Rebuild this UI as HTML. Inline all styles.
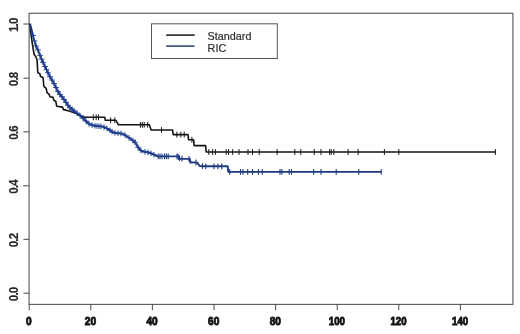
<!DOCTYPE html>
<html><head><meta charset="utf-8"><title>Survival</title>
<style>
html,body{margin:0;padding:0;background:#fff}
svg{display:block;filter:blur(0.3px)}
text{font-family:"Liberation Sans",sans-serif}
.yl{font-size:11.5px;letter-spacing:-0.8px;font-weight:bold;fill:#262626;stroke:#262626;stroke-width:0.15}
.xl{font-size:11.7px;font-weight:bold;fill:#111;stroke:#111;stroke-width:0.9}
.lg{font-size:10.8px;fill:#2c2c2c;stroke:#2c2c2c;stroke-width:0.2}
</style></head><body>
<svg width="520" height="334" viewBox="0 0 520 334">
<rect width="520" height="334" fill="#fff"/>
<rect x="29.1" y="13.3" width="483.8" height="291.1" fill="none" stroke="#5c5c5c" stroke-width="1.15"/>
<path d="M23.4 293.2H29.2M23.4 239.3H29.2M23.4 185.8H29.2M23.4 131.8H29.2M23.4 78.2H29.2M23.4 24.0H29.2M29.2 304.2V310.2M90.8 304.2V310.2M152.4 304.2V310.2M214.0 304.2V310.2M275.6 304.2V310.2M337.2 304.2V310.2M398.8 304.2V310.2M460.4 304.2V310.2" stroke="#4a4a4a" stroke-width="1" fill="none"/>
<text class="yl" transform="translate(18.1 294.4) rotate(-90) scale(1 1.12)" text-anchor="middle">0.0</text>
<text class="yl" transform="translate(18.1 240.5) rotate(-90) scale(1 1.12)" text-anchor="middle">0.2</text>
<text class="yl" transform="translate(18.1 187.0) rotate(-90) scale(1 1.12)" text-anchor="middle">0.4</text>
<text class="yl" transform="translate(18.1 133.0) rotate(-90) scale(1 1.12)" text-anchor="middle">0.6</text>
<text class="yl" transform="translate(18.1 79.4) rotate(-90) scale(1 1.12)" text-anchor="middle">0.8</text>
<text class="yl" transform="translate(18.1 25.2) rotate(-90) scale(1 1.12)" text-anchor="middle">1.0</text>
<text class="xl" transform="translate(28.9 325.4) scale(0.87 1)" text-anchor="middle">0</text>
<text class="xl" transform="translate(90.5 325.4) scale(0.87 1)" text-anchor="middle">20</text>
<text class="xl" transform="translate(152.1 325.4) scale(0.87 1)" text-anchor="middle">40</text>
<text class="xl" transform="translate(213.7 325.4) scale(0.87 1)" text-anchor="middle">60</text>
<text class="xl" transform="translate(275.3 325.4) scale(0.87 1)" text-anchor="middle">80</text>
<text class="xl" transform="translate(336.9 325.4) scale(0.83 1)" text-anchor="middle">100</text>
<text class="xl" transform="translate(398.5 325.4) scale(0.83 1)" text-anchor="middle">120</text>
<text class="xl" transform="translate(460.1 325.4) scale(0.83 1)" text-anchor="middle">140</text>
<rect x="151.5" y="23.8" width="125.8" height="34.7" fill="#fff" stroke="#555" stroke-width="1"/>
<path d="M166.2 35.1H194.6" stroke="#151515" stroke-width="1.5"/>
<path d="M166.2 46.1H194.6" stroke="#223e6c" stroke-width="1.5"/>
<text class="lg" x="207.6" y="39.7">Standard</text>
<text class="lg" x="207.6" y="51.7">RIC</text>
<path d="M30.0 23.7 L30.4 30.0 L31.1 35.0 L32.4 44.2 L33.2 49.3 L34.2 54.5 L35.9 56.7 L37.1 60.1 L37.8 72.6 L39.8 73.7 L40.6 76.5 L43.0 77.5 L43.9 86.4 L46.2 88.4 L47.0 92.6 L49.2 94.4 L50.0 96.8 L53.0 97.4 L54.0 100.5 L55.8 101.3 L56.7 106.2 L62.5 107.1 L63.5 109.6 L69.2 111.0 L75.0 112.9 L80.8 115.8 L84.6 117.3 L104.8 117.3 L105.3 120.3 L115.9 120.3 L118.4 124.8 L149.3 124.8 L151.2 130.0 L172.6 130.0 L173.2 134.6 L188.0 134.6 L188.6 139.8 L193.6 139.8 L194.2 145.6 L205.6 145.6 L206.2 152.0 L495.4 152.0" stroke="#141414" stroke-width="1.6" fill="none" stroke-linejoin="round"/>
<path d="M93.3 114.4V120.2M96.2 114.4V120.2M98.5 114.4V120.2M110.6 117.4V123.2M114.8 117.4V123.2M140.4 121.9V127.7M142.3 121.9V127.7M144.2 121.9V127.7M147.7 121.9V127.7M161.5 127.1V132.9M176.9 131.7V137.5M180.8 131.7V137.5M184.2 131.7V137.5M191.9 136.9V142.7M208.8 149.1V154.9M212.7 149.1V154.9M215.4 149.1V154.9M226.2 149.1V154.9M228.5 149.1V154.9M232.7 149.1V154.9M239.0 149.1V154.9M248.0 149.1V154.9M252.5 149.1V154.9M259.2 149.1V154.9M277.1 149.1V154.9M294.8 149.1V154.9M300.8 149.1V154.9M314.2 149.1V154.9M321.0 149.1V154.9M329.6 149.1V154.9M331.3 149.1V154.9M333.8 149.1V154.9M348.1 149.1V154.9M358.1 149.1V154.9M384.4 149.1V154.9M398.8 149.1V154.9M495.4 149.1V154.9" stroke="#141414" stroke-width="1" fill="none"/>
<path d="M30.0 23.7 L30.8 26.5 L32.4 33.0 L33.6 38.0 L36.2 46.7 L38.0 50.0 L39.3 53.5 L41.5 59.2 L44.3 65.0 L47.0 70.8 L49.8 76.4 L52.9 81.6 L55.3 86.0 L57.4 90.6 L60.2 94.8 L62.4 97.3 L65.3 101.2 L69.2 107.1 L75.0 111.7 L80.8 116.1 L85.0 120.2 L89.5 124.2 L94.5 125.8 L103.0 126.6 L107.0 128.5 L109.5 130.0 L113.5 132.7 L123.0 133.7 L127.0 136.5 L132.7 140.2 L135.5 142.8 L137.5 146.5 L139.5 149.3 L141.8 151.2 L146.0 152.0 L150.0 152.8 L153.8 154.6 L157.5 156.4 L177.7 156.4 L180.2 158.7 L189.0 158.9 L190.9 162.2 L197.2 162.6 L199.7 166.0 L205.0 166.3 L227.7 166.3 L228.3 171.9 L381.5 171.9" stroke="#1d397f" stroke-width="1.9" fill="none" stroke-linejoin="round"/>
<path d="M229.7 169.0V174.8M240.5 169.0V174.8M247.7 169.0V174.8M158.2 153.5V159.3M160.0 153.5V159.3M162.0 153.5V159.3M164.5 153.5V159.3M166.4 153.5V159.3M168.2 153.5V159.3M177.0 153.5V159.3M178.3 154.1V159.9M179.5 155.2V161.0M182.0 155.8V161.6M189.0 156.0V161.8M190.2 158.1V163.9M196.0 159.6V165.4M202.5 163.3V169.1M205.8 163.4V169.2M214.0 163.4V169.2M217.9 163.4V169.2M221.7 163.4V169.2M242.9 169.0V174.8M252.5 169.0V174.8M258.5 169.0V174.8M262.3 169.0V174.8M280.0 169.0V174.8M281.9 169.0V174.8M289.2 169.0V174.8M291.5 169.0V174.8M313.7 169.0V174.8M321.0 169.0V174.8M336.2 169.0V174.8M358.8 169.0V174.8M381.2 169.0V174.8" stroke="#1d397f" stroke-width="1.1" fill="none"/>
<path d="M33.0 32.7V38.3M30.2 35.5H35.8M34.5 38.2V43.8M31.7 41.0H37.3M36.0 43.2V48.8M33.2 46.0H38.8M38.0 47.2V52.8M35.2 50.0H40.8M40.0 52.5V58.1M37.2 55.3H42.8M41.5 56.4V62.0M38.7 59.2H44.3M43.0 59.5V65.1M40.2 62.3H45.8M45.0 63.7V69.3M42.2 66.5H47.8M46.5 66.9V72.5M43.7 69.7H49.3M48.0 70.0V75.6M45.2 72.8H50.8M50.0 73.9V79.5M47.2 76.7H52.8M52.0 77.3V82.9M49.2 80.1H54.8M54.0 80.8V86.4M51.2 83.6H56.8M56.0 84.7V90.3M53.2 87.5H58.8M58.0 88.7V94.3M55.2 91.5H60.8M60.0 91.7V97.3M57.2 94.5H62.8M62.0 94.0V99.6M59.2 96.8H64.8M64.0 96.7V102.3M61.2 99.5H66.8M66.0 99.5V105.1M63.2 102.3H68.8M68.0 102.5V108.1M65.2 105.3H70.8M70.0 104.9V110.5M67.2 107.7H72.8M72.0 106.5V112.1M69.2 109.3H74.8M74.0 108.1V113.7M71.2 110.9H76.8M77.0 110.4V116.0M74.2 113.2H79.8M80.0 112.7V118.3M77.2 115.5H82.8M83.0 115.4V121.0M80.2 118.2H85.8M86.0 118.3V123.9M83.2 121.1H88.8M89.0 121.0V126.6M86.2 123.8H91.8M92.0 122.2V127.8M89.2 125.0H94.8M95.0 123.0V128.6M92.2 125.8H97.8M97.0 123.2V128.8M94.2 126.0H99.8M99.0 123.4V129.0M96.2 126.2H101.8M101.0 123.6V129.2M98.2 126.4H103.8M104.0 124.3V129.9M101.2 127.1H106.8M107.0 125.7V131.3M104.2 128.5H109.8M110.0 127.5V133.1M107.2 130.3H112.8M112.0 128.9V134.5M109.2 131.7H114.8M115.0 130.1V135.7M112.2 132.9H117.8M118.0 130.4V136.0M115.2 133.2H120.8M121.0 130.7V136.3M118.2 133.5H123.8M125.0 132.3V137.9M122.2 135.1H127.8M129.0 135.0V140.6M126.2 137.8H131.8M133.0 137.7V143.3M130.2 140.5H135.8M135.0 139.5V145.1M132.2 142.3H137.8M138.0 144.4V150.0M135.2 147.2H140.8M141.0 147.7V153.3M138.2 150.5H143.8M145.0 149.0V154.6M142.2 151.8H147.8M148.0 149.6V155.2M145.2 152.4H150.8M151.0 150.5V156.1M148.2 153.3H153.8M154.0 151.9V157.5M151.2 154.7H156.8" stroke="#1f3f90" stroke-width="1" fill="none"/>
</svg>
</body></html>
